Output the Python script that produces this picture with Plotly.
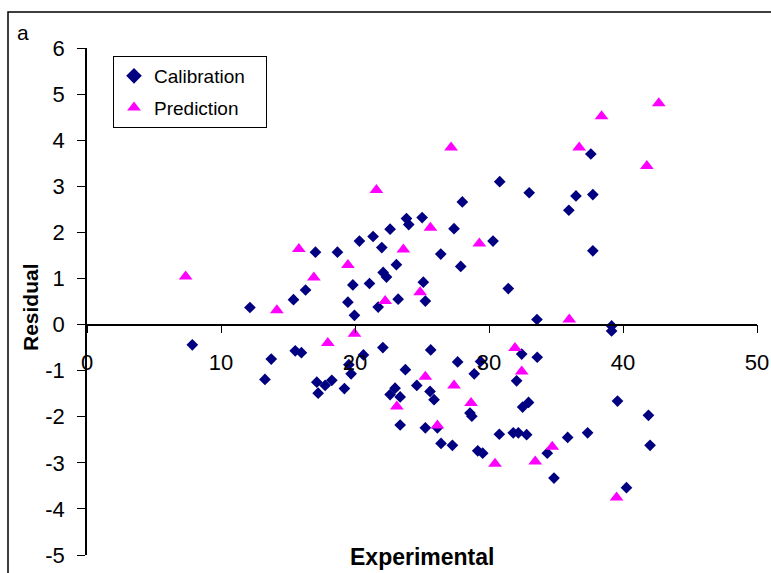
import plotly.graph_objects as go

# Calibration residuals (experimental, residual)
cal_x = [7.86, 12.16, 13.75, 13.28, 15.41, 16.31, 17.05, 15.54, 16.0, 17.15,
         17.25, 17.77, 18.27, 18.69, 19.21, 19.47, 19.96, 19.84, 19.54, 19.71,
         20.33, 20.63, 21.08, 21.35, 21.73, 22.0, 22.10, 22.35, 22.62, 22.08,
         23.09, 23.22, 23.84, 24.01, 23.76, 22.99, 22.62, 23.37, 23.37, 24.61,
         25.01, 25.10, 25.25, 25.60, 25.90, 25.25, 25.65, 26.15, 26.40, 26.42,
         27.27, 27.39, 27.89, 28.01, 27.66, 28.90, 29.37, 28.58, 28.72, 29.16,
         29.53, 30.30, 30.80, 30.77, 31.44, 31.81, 32.19, 32.81, 32.06, 32.44,
         32.51, 32.95, 33.0, 33.58, 33.60, 34.35, 34.85, 35.87, 35.96, 36.49,
         37.36, 37.60, 37.75, 37.75, 39.15, 39.15, 39.59, 40.26, 41.90, 42.02]
cal_y = [-0.44, 0.37, -0.75, -1.19, 0.54, 0.75, 1.57, -0.57, -0.61, -1.25,
         -1.49, -1.32, -1.21, 1.57, -1.39, 0.485, 0.20, 0.86, -0.87, -1.07,
         1.81, -0.66, 0.89, 1.91, 0.38, 1.67, 1.13, 1.03, 2.07, -0.50,
         1.30, 0.55, 2.30, 2.17, -0.98, -1.38, -1.52, -1.57, -2.18, -1.32,
         2.32, 0.92, 0.51, -1.45, -1.63, -2.24, -0.55, -2.24, 1.53, -2.58,
         -2.62, 2.08, 1.26, 2.66, -0.81, -1.07, -0.80, -1.92, -1.99, -2.74,
         -2.79, 1.81, 3.10, -2.38, 0.78, -2.35, -2.35, -2.39, -1.22, -0.64,
         -1.79, -1.69, 2.86, 0.11, -0.71, -2.79, -3.33, -2.45, 2.48, 2.79,
         -2.35, 3.70, 2.82, 1.60, -0.03, -0.14, -1.66, -3.54, -1.97, -2.62]

# Prediction residuals
pred_x = [7.36, 14.17, 15.81, 16.93, 17.97, 19.47, 19.96, 21.60, 22.25, 23.61,
          23.12, 24.86, 25.63, 25.25, 26.15, 27.17, 27.39, 28.66, 29.28, 30.45,
          31.94, 32.44, 33.45, 34.72, 35.99, 36.73, 38.40, 39.52, 41.78, 42.67]
pred_y = [1.04, 0.31, 1.64, 1.02, -0.40, 1.29, -0.20, 2.92, 0.51, 1.63,
          -1.78, 0.70, 2.10, -1.13, -2.19, 3.84, -1.32, -1.70, 1.76, -3.02,
          -0.51, -1.02, -2.97, -2.65, 0.11, 3.84, 4.52, -3.75, 3.44, 4.80]

x_ticks = [0, 10, 20, 30, 40, 50]
x_ticktext = ["0", "10", "20", "30", "40", "50"]
y_ticks = [-5, -4, -3, -2, -1, 0, 1, 2, 3, 4, 5, 6]
y_ticktext = ["-5", "-4", "-3", "-2", "-1", "0", "1", "2", "3", "4", "5", "6"]

FONT = "Arial, Liberation Sans, sans-serif"
W, H = 771, 573
L, R, T, B = 87, 14, 48, 18
pw, ph = W - L - R, H - T - B
PAD = "\u00a0\u00a0\u00a0"  # keeps the legend box as wide as the original


def px(xp):
    return (xp - L) / pw


def py(yp):
    return (H - B - yp) / ph


fig = go.Figure()
fig.add_trace(go.Scatter(
    x=cal_x, y=cal_y, mode="markers", name="Calibration" + PAD,
    marker=dict(symbol="diamond", size=9, color="#000080"),
    legendgroup="c"))
fig.add_trace(go.Scatter(
    x=pred_x, y=pred_y, mode="markers", name="Prediction",
    marker=dict(symbol="triangle-up", size=12, color="#FF00FF"),
    legendgroup="p"))

fig.update_layout(
    width=W, height=H,
    margin=dict(l=L, r=R, t=T, b=B, pad=0, autoexpand=False),
    paper_bgcolor="white", plot_bgcolor="white",
    font=dict(family=FONT, color="black", size=20),
    showlegend=True,
    legend=dict(x=px(113), y=py(56), xanchor="left", yanchor="top",
                bordercolor="black", borderwidth=1, bgcolor="white",
                font=dict(size=19, family=FONT), tracegroupgap=4,
                itemsizing="constant"),
    xaxis=dict(range=[0, 50], tickvals=x_ticks, ticktext=x_ticktext,
               showgrid=False, zeroline=False, automargin=False,
               showline=True, linecolor="black", linewidth=1.5,
               ticks="outside", ticklen=8, tickcolor="black",
               anchor="free", position=5 / 11, ticklabelstandoff=10,
               tickfont=dict(size=22)),
    yaxis=dict(range=[-5, 6], tickvals=y_ticks, ticktext=y_ticktext,
               showgrid=False, zeroline=False, automargin=False,
               showline=True, linecolor="black", linewidth=1.5,
               ticks="outside", ticklen=8, tickcolor="black",
               ticklabelstandoff=8, tickfont=dict(size=22)),
    shapes=[dict(type="rect", xref="paper", yref="paper",
                 x0=px(8), x1=px(790), y0=py(590), y1=py(12),
                 line=dict(color="black", width=1.5))],
    annotations=[
        dict(text="a", xref="paper", yref="paper", x=px(15), y=py(32),
             xanchor="left", yanchor="middle", showarrow=False,
             font=dict(size=21)),
        dict(text="<b>Residual</b>", xref="paper", yref="paper",
             x=px(30), y=py(307), textangle=-90, xanchor="center",
             yanchor="middle", showarrow=False, font=dict(size=21)),
        dict(text="<b>Experimental</b>", xref="paper", yref="paper",
             x=px(422), y=py(557), xanchor="center", yanchor="middle",
             showarrow=False, font=dict(size=23)),
    ],
)

fig.write_html("out.html")
